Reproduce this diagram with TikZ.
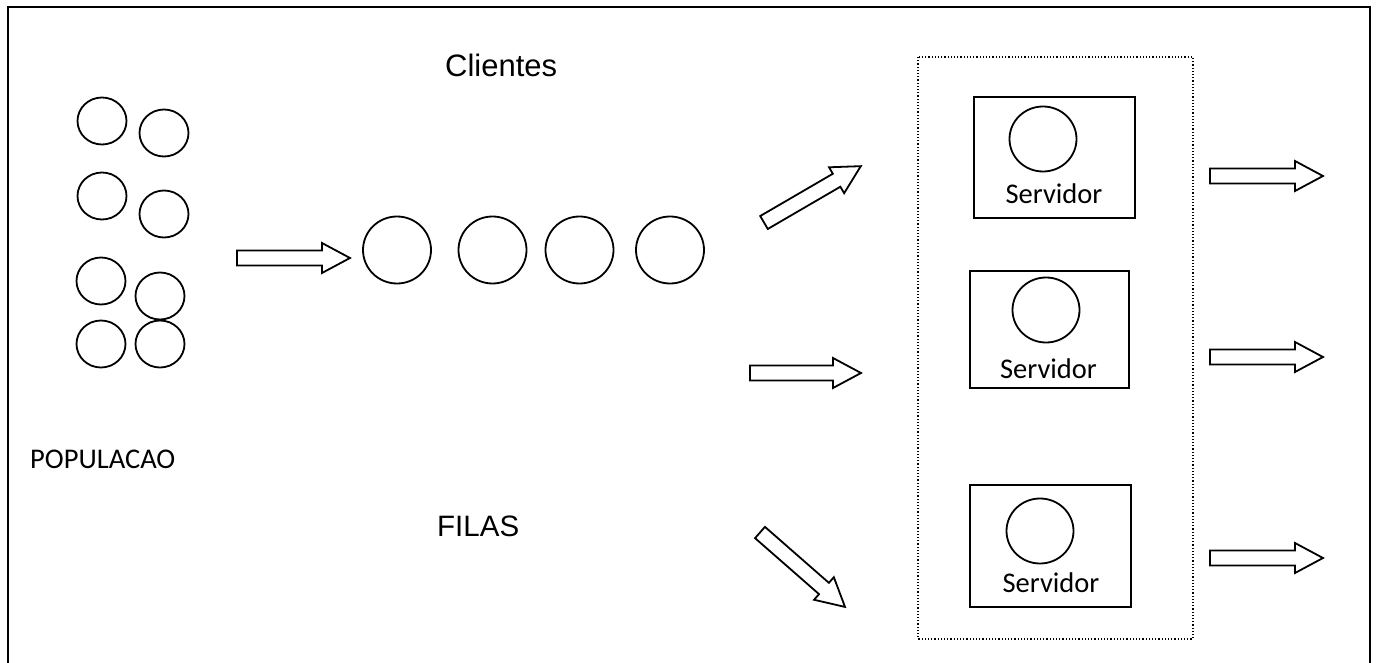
\documentclass[tikz,border=0pt]{standalone}
\usepackage{fontspec}
\setmainfont{Liberation Sans}
\newfontfamily\calibrifont{Carlito}
\usetikzlibrary{shapes.geometric}

\tikzset{
  frame/.style={line width=2.2pt},
  ball/.style={draw, ellipse, line width=1.8pt, inner sep=0pt},
  popball/.style={ball, minimum width=49pt, minimum height=47pt},
  queueball/.style={ball, minimum width=68pt, minimum height=67pt},
  srvball/.style={ball, minimum width=67pt, minimum height=65pt},
  srvbox/.style={draw, line width=1.8pt},
  dotbox/.style={draw, line width=1.2pt, dotted},
  blockline/.style={draw, line width=1.8pt, fill=white},
  bigtext/.style={font=\fontsize{31}{36}\selectfont, inner sep=0pt},
  smalltext/.style={font=\calibrifont\fontsize{28.5}{33}\selectfont, inner sep=0pt},
  pics/blockarrow/.style 2 args={code={
    \draw[blockline, rotate=#1]
      (0,-7.5) -- ({#2-28},-7.5) -- ({#2-28},-15) -- (#2,0)
      -- ({#2-28},15) -- ({#2-28},7.5) -- (0,7.5) -- cycle;
  }}
}

\begin{document}
\begin{tikzpicture}[x=1pt, y=-1pt]
  \useasboundingbox (0,0) rectangle (1376,663);
  \fill[white] (0,0) rectangle (1376,663);

  % outer frame (open at the bottom edge)
  \draw[frame] (8,663) -- (8,7) -- (1370,7) -- (1370,663);

  % population
  \node[popball] (p1) at (102,121) {};
  \node[popball] (p2) at (164,133) {};
  \node[popball] (p3) at (102,196) {};
  \node[popball] (p4) at (164,214) {};
  \node[popball] (p5) at (101,281) {};
  \node[popball] (p6) at (160,296) {};
  \node[popball] (p7) at (101,344) {};
  \node[popball] (p8) at (160,344) {};
  \node[smalltext, anchor=base west] (pop) at (30,468) {POPULACAO};

  % arrival arrow
  \pic (arrin) at (237,258) {blockarrow={0}{113}};

  % queue of clients
  \node[bigtext, anchor=base west] (cli) at (445,77) {Clientes};
  \node[queueball] (q1) at (397,250) {};
  \node[queueball] (q2) at (492.5,250) {};
  \node[queueball] (q3) at (579.5,250) {};
  \node[queueball] (q4) at (670,250) {};
  \node[bigtext, anchor=base west, font=\fontsize{29.5}{34}\selectfont] (filas) at (437,536) {FILAS};

  % dispatch arrows
  \pic (arrup) at (764,222.5) {blockarrow={30.2}{112}};
  \pic (arrmid) at (750,373) {blockarrow={0}{111}};
  \pic (arrdown) at (760,532.5) {blockarrow={-41.2}{113}};

  % service station
  \draw[dotbox] (918,57) rectangle (1193,639);

  \draw[srvbox] (974,97) rectangle (1135,218);
  \node[srvball] (s1) at (1043,139) {};
  \node[smalltext, anchor=base] (t1) at (1054,204) {Servidor};

  \draw[srvbox] (970,271) rectangle (1129,388);
  \node[srvball] (s2) at (1046,310) {};
  \node[smalltext, anchor=base] (t2) at (1048.5,378) {Servidor};

  \draw[srvbox] (970,485) rectangle (1131,607);
  \node[srvball] (s3) at (1040,531) {};
  \node[smalltext, anchor=base] (t3) at (1051,592) {Servidor};

  % departures
  \pic (out1) at (1210,176) {blockarrow={0}{113}};
  \pic (out2) at (1210,357) {blockarrow={0}{113}};
  \pic (out3) at (1210,558) {blockarrow={0}{113}};
\end{tikzpicture}
\end{document}
